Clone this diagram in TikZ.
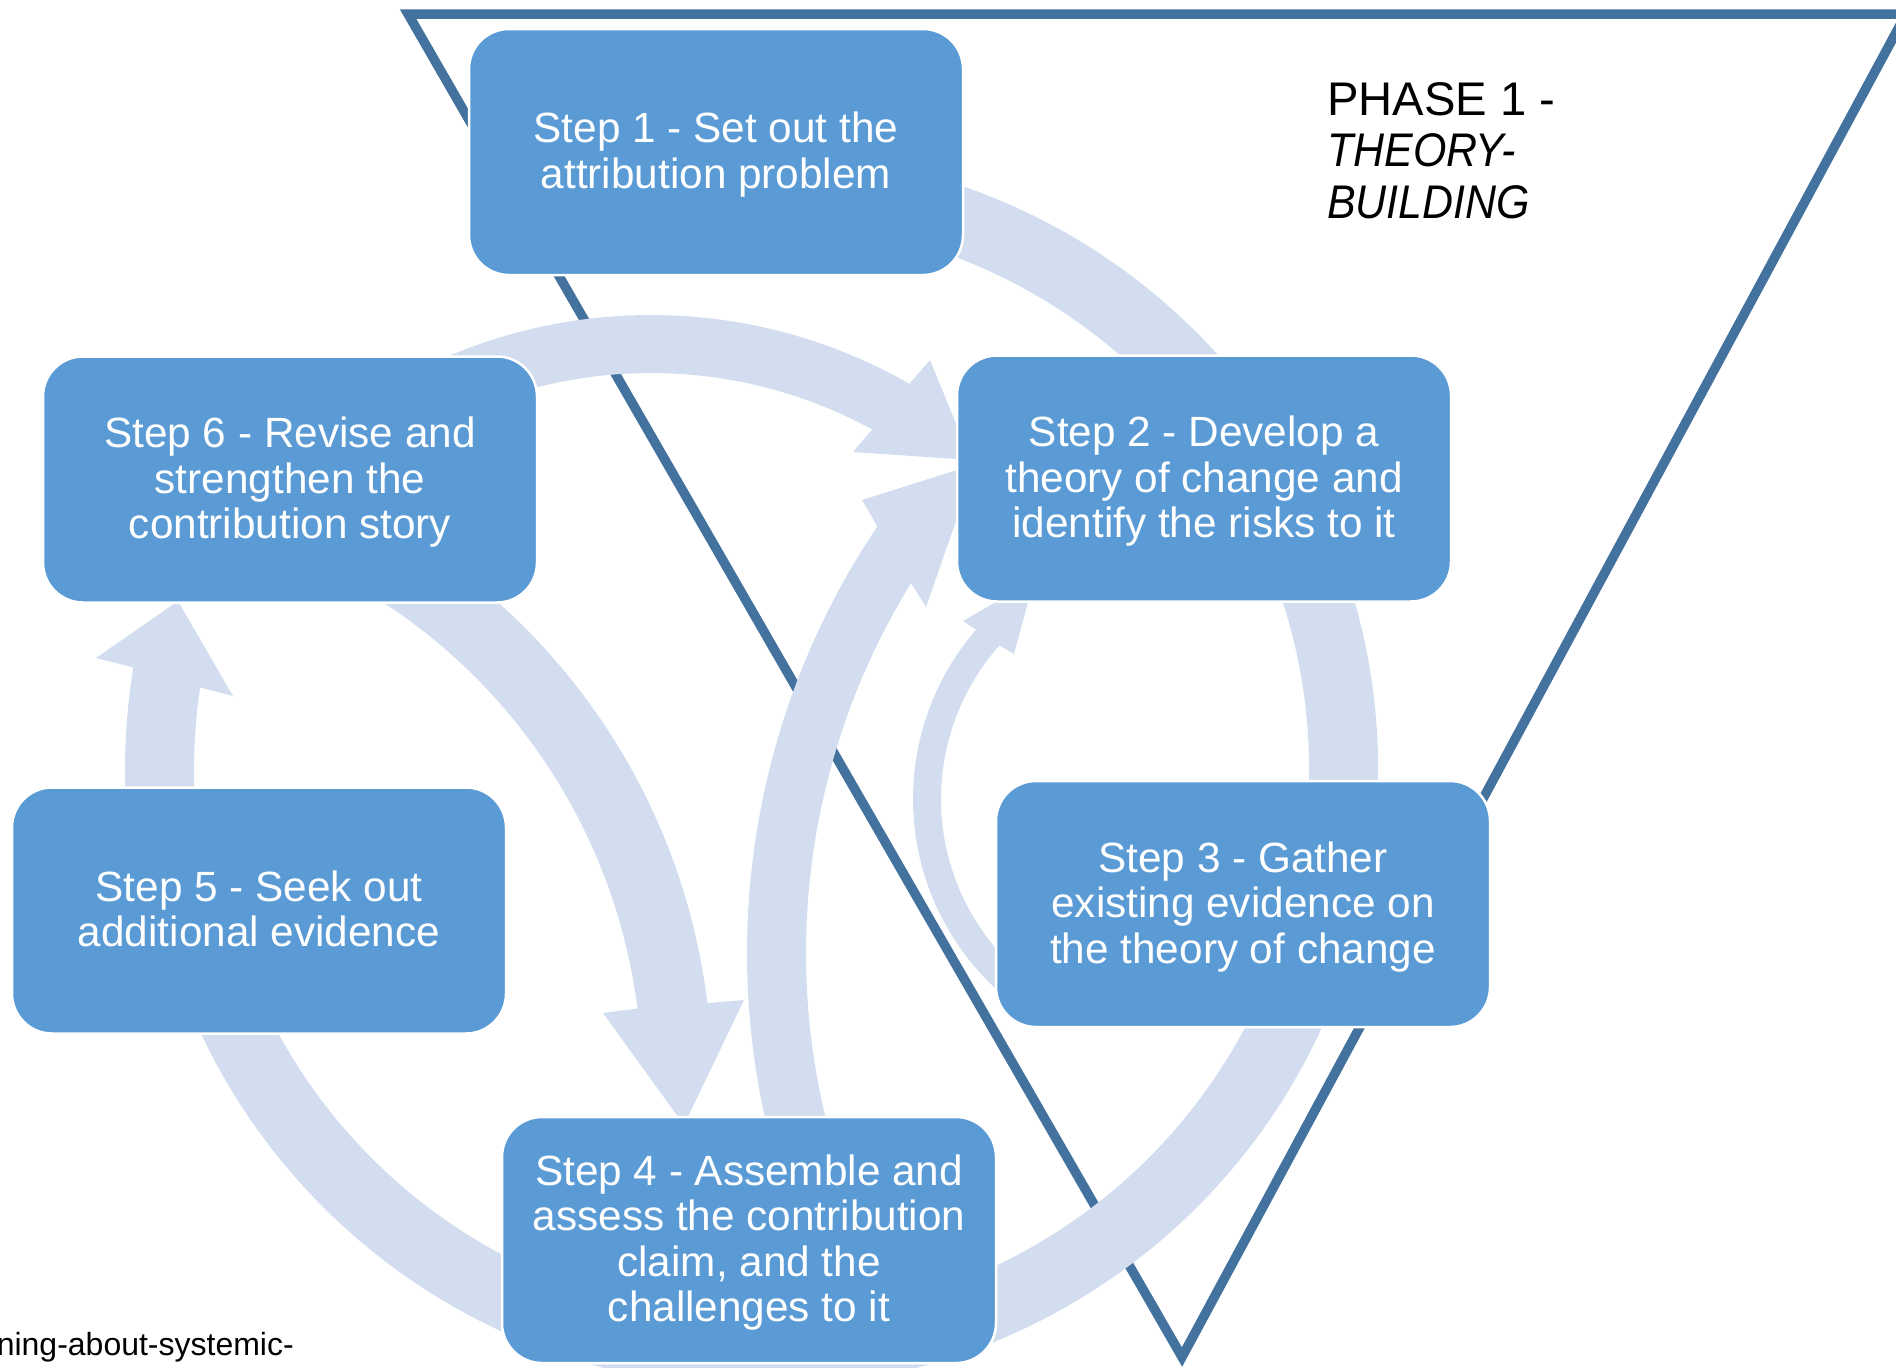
\documentclass[tikz,border=0pt]{standalone}
\usepackage{fontspec}
\usepackage{graphicx}
\setmainfont{Liberation Sans}
\usetikzlibrary{calc}
\definecolor{boxblue}{RGB}{91,155,213}
\definecolor{bandblue}{RGB}{210,222,239}
\definecolor{edgeblue}{RGB}{67,114,158}
% struts that fix the vertical extent of the box texts
\newcommand{\tstrut}{\rule{0pt}{36pt}}
\newcommand{\bstrut}{\rule[-8.6pt]{0pt}{8.6pt}}
% condensed italic for the phase name
\newcommand{\narrowit}[1]{\scalebox{0.91}[1]{\textit{#1}}}

\begin{document}
\begin{tikzpicture}[x=1pt,y=1pt,yscale=-1,
  stepbox/.style={draw=white, line width=2.5pt, fill=boxblue, rounded corners=40pt,
    minimum width=494pt, minimum height=246pt, inner sep=0pt, align=center,
    text=white, font=\fontsize{42.3}{45.5}\selectfont},
  band/.style={fill=bandblue},
  ringband/.style={draw=bandblue, line width=69pt},
  phaseedge/.style={draw=edgeblue, line width=9.5pt, line join=miter},
  phasetext/.style={inner sep=0pt, align=left, font=\fontsize{47.2}{51.7}\selectfont},
  sourcetext/.style={inner sep=0pt, font=\fontsize{32}{38}\selectfont}]

\useasboundingbox (0,0) rectangle (1896,1368);

% phase triangle
\coordinate (tl) at (408,14);
\coordinate (tr) at (1906,14);
\coordinate (tb) at (1182,1357);
\draw[phaseedge] (tl) -- (tr) -- (tb) -- cycle;

% centres of the curved arrows
\coordinate (cring) at (760,770);
\coordinate (c56) at (760,770);
\coordinate (c62) at (651,835);
\coordinate (c64) at (72,1080);
\coordinate (c42) at (1510,953);
\coordinate (c32) at (1172,799);

% outer cycle ring: step 1 -> 2 -> 3 -> 4 -> 5
\draw[ringband] (cring) ++(-72:583.5) arc[start angle=-72, end angle=156, radius=583.5];

% step 5 -> step 6
\fill[band] (c56) ++(176:635) arc[start angle=176, end angle=189.3, radius=635]
  -- (96,658) -- (178,601) -- (233,696)
  -- ($(c56)+(188.4:566)$) arc[start angle=188.4, end angle=176, radius=566] -- cycle;

% step 6 -> step 2
\fill[band] (c62) ++(-118:520) arc[start angle=-118, end angle=-60.2, radius=520]
  -- (930,360) -- (971,460) -- (853,452)
  -- ($(c62)+(-61.4:462)$) arc[start angle=-61.4, end angle=-118, radius=462] -- cycle;

% step 6 -> step 4
\fill[band] (c64) ++(-58:640) arc[start angle=-58, end angle=-6.9, radius=640]
  -- (744,1000) -- (684,1125) -- (603,1013)
  -- ($(c64)+(-7.2:570)$) arc[start angle=-7.2, end angle=-58, radius=570] -- cycle;

% step 4 -> step 2
\fill[band] (c42) ++(165:763) arc[start angle=165, end angle=214, radius=763]
  -- (862,500) -- (976,464) -- (926,607)
  -- ($(c42)+(211.7:704)$) arc[start angle=211.7, end angle=165, radius=704] -- cycle;

% step 3 -> step 2
\fill[band] (c32) ++(128:259) arc[start angle=128, end angle=220.8, radius=259]
  -- (963,621) -- (1034,580) -- (1014,654)
  -- ($(c32)+(221.7:231)$) arc[start angle=221.7, end angle=128, radius=231] -- cycle;

% steps
\node[stepbox] (s1) at (716,152) {\tstrut Step 1 - Set out the\\attribution problem\bstrut};
\node[stepbox] (s2) at (1204,478.5) {\tstrut Step 2 - Develop a\\theory of change and\\identify the risks to it\bstrut};
\node[stepbox] (s3) at (1243,904) {\tstrut Step 3 - Gather\\existing evidence on\\the theory of change\bstrut};
\node[stepbox] (s4) at (749,1240) {\tstrut Step 4 - Assemble and\\assess the contribution\\claim, and the\\challenges to it\bstrut};
\node[stepbox] (s5) at (259,910.5) {\tstrut Step 5 - Seek out\\additional evidence\bstrut};
\node[stepbox] (s6) at (290,479.5) {\tstrut Step 6 - Revise and\\strengthen the\\contribution story\bstrut};

% phase label
\node[phasetext, anchor=north west] (phase) at (1327,75)
  {\rule{0pt}{40pt}PHASE 1 -\\\narrowit{THEORY-}\\\narrowit{BUILDING}};

% cut-off source line
\node[sourcetext, anchor=base east] (source) at (294,1355) {ning-about-systemic-};

\end{tikzpicture}
\end{document}
